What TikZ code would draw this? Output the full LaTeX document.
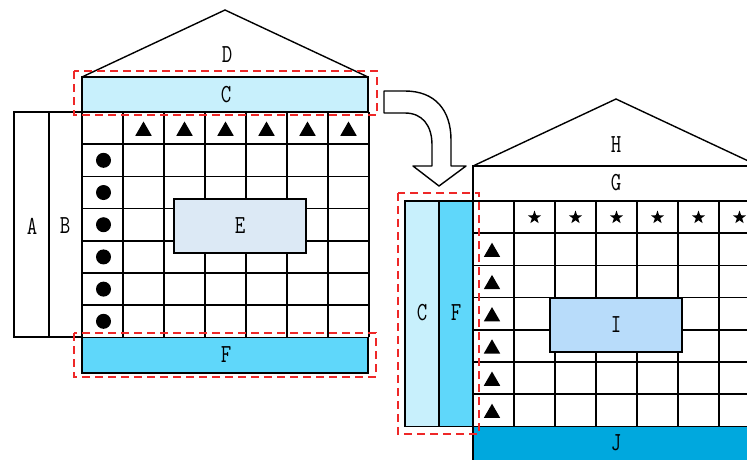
\documentclass[tikz,border=0pt]{standalone}
\usepackage{fontspec}
\usetikzlibrary{shapes.geometric}
\definecolor{cLight}{RGB}{200,240,252}
\definecolor{fBlue}{RGB}{95,215,250}
\definecolor{eBlue}{RGB}{220,233,245}
\definecolor{iBlue}{RGB}{184,220,250}
\definecolor{jBlue}{RGB}{0,168,222}
\definecolor{dashRed}{RGB}{238,40,40}
\newcommand{\narrowlab}[1]{\scalebox{0.78}[1]{#1}}
\begin{document}
\begin{tikzpicture}[x=1pt,y=-1pt,
  line width=1.4pt,
  box/.style={draw=black, line width=1.4pt, inner sep=0pt},
  lbl/.style={inner sep=0pt, font=\ttfamily\fontsize{26}{26}\selectfont},
  gridline/.style={draw=black, line width=1.6pt},
  hl/.style={draw=dashRed, line width=1.4pt, dash pattern=on 8pt off 5pt},
  tri/.style={regular polygon, regular polygon sides=3, fill=black, inner sep=0pt, minimum size=19pt},
  dotm/.style={circle, fill=black, inner sep=0pt, minimum size=15pt},
  starm/.style={star, star points=5, star point ratio=2.5, fill=black, inner sep=0pt, minimum size=14pt}]
\useasboundingbox (0,0) rectangle (747,459);
\clip (0,0) rectangle (747,459);
\fill[white] (0,0) rectangle (747,459);

% ---------- left house ----------
\draw[line width=1.4pt] (82,77) -- (225,10) -- (368,77);
\node[lbl] (D) at (227,55) {\narrowlab{D}};
\draw[box, fill=cLight] (82,77) rectangle (368,112);
\node[lbl] (C1) at (226,94.5) {\narrowlab{C}};
\draw[box] (14,112) rectangle (49,337);
\draw[box] (49,112) rectangle (82,337);
\node[lbl] (A) at (32,226) {\narrowlab{A}};
\node[lbl] (B) at (65,226) {\narrowlab{B}};
\foreach \i in {0,...,7} \draw[gridline] ({82+41*\i},112) -- ({82+41*\i},337.4);
\foreach \j in {0,...,7} \draw[gridline] (82,{112+32.2*\j}) -- (369,{112+32.2*\j});
\foreach \i in {1,...,6} \node[tri] (lt\i) at ({82+41*\i+20.5},131) {};
\foreach \j in {1,...,6} \node[dotm] (ld\j) at (103.5,{112+32.2*\j+16.1}) {};
\draw[box, fill=eBlue] (174,199) rectangle (306,253);
\node[lbl] (E) at (240,226) {\narrowlab{E}};
\draw[box, fill=fBlue] (82,337.4) rectangle (368,373);
\node[lbl] (F1) at (226,355) {\narrowlab{F}};
\draw[hl] (74,71) rectangle (377,115);
\draw[hl] (74,333) rectangle (376,377);

% ---------- curved arrow ----------
\draw[line width=1.4pt, fill=white, line join=round]
  (384,91) -- (405,91) .. controls (435,91) and (451,110) .. (451,140) -- (451,166)
  -- (466,166) -- (439,186) -- (413,166) -- (432,166) -- (432,145)
  .. controls (432,125) and (422,113) .. (405,113) -- (384,113) -- cycle;

% ---------- right house ----------
\draw[line width=1.4pt] (473,166) -- (616,99) -- (759,166);
\node[lbl] (H) at (616,145) {\narrowlab{H}};
\draw[line width=1.4pt] (473,201) -- (473,166) -- (760,166);
\node[lbl] (G) at (616,183) {\narrowlab{G}};
\draw[box, fill=cLight] (405,201) rectangle (439,426.4);
\draw[box, fill=fBlue] (439,201) rectangle (473,426.4);
\node[lbl] (C2) at (422,313) {\narrowlab{C}};
\node[lbl] (F2) at (456,313) {\narrowlab{F}};
\foreach \i in {0,...,7} \draw[gridline] ({473+41*\i},201) -- ({473+41*\i},426.4);
\foreach \j in {0,...,7} \draw[gridline] (473,{201+32.2*\j}) -- (760,{201+32.2*\j});
\foreach \i in {1,...,7} \node[starm] (rs\i) at ({473+41*\i+20.5},217.5) {};
\foreach \j in {1,...,6} \node[tri] (rt\j) at (492,{201+32.2*\j+19}) {};
\draw[box, fill=iBlue] (550,298) rectangle (682,352);
\node[lbl] (I) at (616,325) {\narrowlab{I}};
\draw[box, fill=jBlue] (473,426.4) rectangle (760,470);
\node[lbl] (J) at (616,443) {\narrowlab{J}};
\draw[hl] (398,193) rectangle (479,434);
\end{tikzpicture}
\end{document}
